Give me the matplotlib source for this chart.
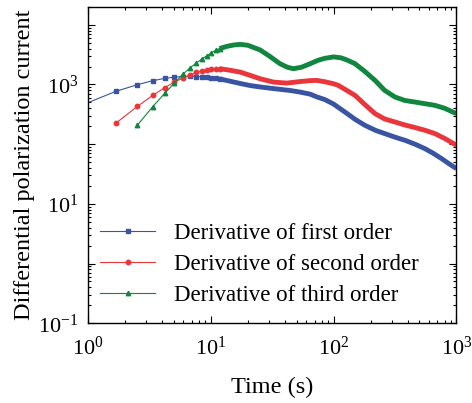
import numpy as np
import matplotlib
matplotlib.use("Agg")
import matplotlib.pyplot as plt
from matplotlib.ticker import FixedLocator, FuncFormatter, NullFormatter

plt.rcParams['font.family'] = ['Liberation Serif', 'DejaVu Serif']
plt.rcParams['mathtext.fontset'] = 'stix'

# sampled points where single markers are still visible (t in s)
t_early = [0.845, 1.69, 2.535, 3.38, 4.225, 5.07, 5.915, 6.76, 7.605, 8.45,
           9.295, 10.14, 10.985, 11.83]
first_early = [430, 767, 993, 1159, 1265, 1330, 1360, 1366, 1360, 1345,
               1320, 1295, 1265, 1240]
second_early = [224, 431, 658, 885, 1097, 1279, 1437, 1592, 1700, 1770,
                1815, 1840, 1840]
third_early = [209, 426, 710, 1054, 1475, 1879, 2280, 2660, 3030, 3400,
               3750, 4000]

# dense part of the curves (markers merge into a band)
t_first = [11.83, 14, 17.4, 21, 25.2, 30, 36.7, 45, 53.4, 64.4, 73, 85.3,
           100, 124, 150, 180, 220, 262, 320, 382, 460, 555, 650, 760, 870, 1000]
first = [1240, 1150, 1040, 960, 910, 870, 830, 790, 746, 690, 620, 557,
         470, 345, 260, 207, 170, 150, 130, 116, 100, 84, 70, 57, 47, 39]

t_second = [11.83, 14, 17.4, 21, 25.2, 32.4, 41.6, 53.4, 64, 73, 85.3, 100,
            109.4, 125, 149.6, 180, 217.6, 260, 316.5, 380, 460, 560, 670,
            800, 1000]
second = [1840, 1750, 1612, 1420, 1250, 1097, 1055, 1120, 1160, 1171, 1110,
          1030, 966, 820, 657, 460, 325, 265, 235, 210, 190, 170, 150, 125, 96]

t_third = [11.83, 13.5, 15.5, 17.4, 20, 25.2, 30, 36.7, 42, 47.1, 55, 64.4,
           75, 85.3, 100, 115, 130, 149.6, 180, 217.6, 260, 316.5, 380, 460,
           560, 670, 800, 1000]
third = [4000, 4350, 4600, 4700, 4550, 3800, 3000, 2227, 1950, 1838, 1950,
         2227, 2550, 2750, 2900, 2800, 2550, 2227, 1650, 1171, 800, 616, 540,
         508, 475, 447, 400, 325]

labels = ["Derivative of first order", "Derivative of second order",
          "Derivative of third order"]
colors = ["#3a54a4", "#ea353b", "#10863e"]

fig = plt.figure(figsize=(4.72, 4.03), dpi=100)
ax = fig.add_axes([0.186, 0.198, 0.781, 0.785])

series = [
    (t_early, first_early, t_first, first, 's'),
    (t_early[1:], second_early, t_second, second, 'o'),
    (t_early[2:], third_early, t_third, third, '^'),
]
for (te, ye, td, yd, m), lab, c in zip(series, labels, colors):
    ax.plot(te, ye, color=c, lw=0.8, marker=m, ms=3.2, label=lab)
    ax.plot(td, yd, color=c, lw=3.5, solid_capstyle='butt',
            solid_joinstyle='round')

ax.set_xscale('log')
ax.set_yscale('log')

decades = range(-2, 6)
ax.yaxis.set_major_locator(FixedLocator([10.0 ** e for e in decades]))
ax.yaxis.set_minor_locator(FixedLocator([m * 10.0 ** e for e in decades
                                         for m in range(2, 10)]))
ax.xaxis.set_minor_locator(FixedLocator([m * 10.0 ** e for e in range(0, 3)
                                         for m in range(2, 10)]))
ax.yaxis.set_major_formatter(FuncFormatter(
    lambda v, p: r'$\mathregular{10^{%d}}$' % round(np.log10(v))
    if round(np.log10(v)) % 2 != 0 else ''))
ax.yaxis.set_minor_formatter(NullFormatter())
ax.xaxis.set_major_formatter(FuncFormatter(
    lambda v, p: r'$\mathregular{10^{%d}}$' % round(np.log10(v))))
ax.xaxis.set_minor_formatter(NullFormatter())
ax.set_xlim(1, 1000)
ax.set_ylim(0.1, 2e4)

ax.tick_params(which='both', direction='in', top=True, right=True,
               width=0.8, labelsize=16)
ax.tick_params(which='major', length=5)
ax.tick_params(which='minor', length=2.5)
ax.tick_params(axis='x', pad=10)
ax.tick_params(axis='y', pad=7)
for s in ax.spines.values():
    s.set_linewidth(1.0)

ax.set_xlabel("Time (s)", fontsize=17.5, labelpad=12)
ax.set_ylabel("Differential polarization current", fontsize=17.5, labelpad=2)

ax.legend(loc='lower left', bbox_to_anchor=(-0.022, -0.012), frameon=False,
          fontsize=16.5, handlelength=2.4, handletextpad=0.8,
          labelspacing=0.44)

fig.savefig("out.png", dpi=100)
